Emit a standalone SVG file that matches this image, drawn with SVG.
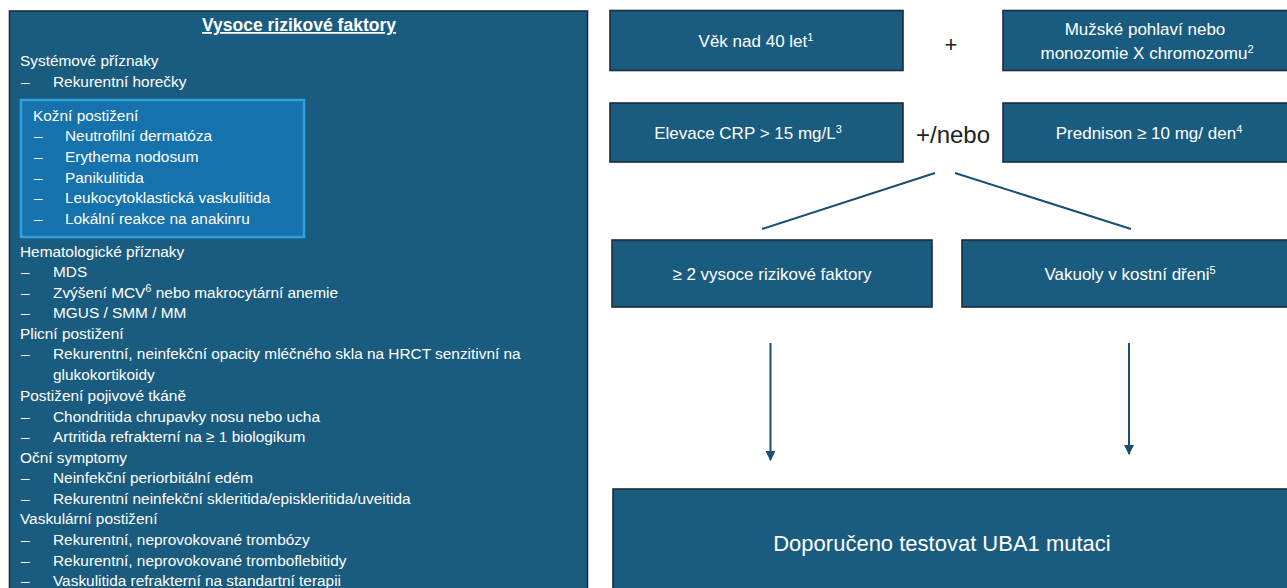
<svg xmlns="http://www.w3.org/2000/svg" width="1287" height="588" viewBox="0 0 1287 588">
<defs>
<style>
.box{fill:#1a5c80;stroke:#1b2c3a;stroke-width:1.6}
.t{font-family:"Liberation Sans",Arial,sans-serif;fill:#ffffff}
.l{font-size:15.4px}
.c{text-anchor:middle}
.m{font-size:17px}
.sup{font-size:11px}
.conn{stroke:#1b4f72;stroke-width:2;fill:none}
</style>
<marker id="ah" viewBox="0 0 10 10" refX="9" refY="5" markerWidth="5" markerHeight="5" orient="auto" markerUnits="strokeWidth">
<path d="M0,0 L10,5 L0,10 z" fill="#1b4f72"/>
</marker>
</defs>
<rect width="1287" height="588" fill="#ffffff"/>

<g id="panel-risk">
<rect class="box" x="9.5" y="11" width="578" height="590"/>
<text class="t c" x="299" y="31" font-size="17.5" font-weight="bold" text-decoration="underline">Vysoce rizikové faktory</text>
<g class="t l">
<text x="20" y="66">Systémové příznaky</text>
<text x="21" y="87">–</text><text x="53" y="87">Rekurentní horečky</text>
</g>
<g id="kozni">
<rect x="21" y="100" width="283" height="137" fill="#1672ac" stroke="#2da2de" stroke-width="2.5"/>
<g class="t l">
<text x="33" y="121">Kožní postižení</text>
<text x="34" y="141">–</text><text x="65" y="141">Neutrofilní dermatóza</text>
<text x="34" y="162">–</text><text x="65" y="162">Erythema nodosum</text>
<text x="34" y="183">–</text><text x="65" y="183">Panikulitida</text>
<text x="34" y="203">–</text><text x="65" y="203">Leukocytoklastická vaskulitida</text>
<text x="34" y="224">–</text><text x="65" y="224">Lokální reakce na anakinru</text>
</g>
</g>
<g class="t l">
<text x="20" y="257">Hematologické příznaky</text>
<text x="21" y="277">–</text><text x="53" y="277">MDS</text>
<text x="21" y="298">–</text><text x="53" y="298">Zvýšení MCV<tspan class="sup" baseline-shift="super">6</tspan> nebo makrocytární anemie</text>
<text x="21" y="318">–</text><text x="53" y="318">MGUS / SMM / MM</text>
<text x="20" y="339">Plicní postižení</text>
<text x="21" y="359">–</text><text x="53" y="359">Rekurentní, neinfekční opacity mléčného skla na HRCT senzitivní na</text>
<text x="53" y="380">glukokortikoidy</text>
<text x="20" y="401">Postižení pojivové tkáně</text>
<text x="21" y="422">–</text><text x="53" y="422">Chondritida chrupavky nosu nebo ucha</text>
<text x="21" y="442">–</text><text x="53" y="442">Artritida refrakterní na ≥ 1 biologikum</text>
<text x="20" y="463">Oční symptomy</text>
<text x="21" y="483">–</text><text x="53" y="483">Neinfekční periorbitální edém</text>
<text x="21" y="504">–</text><text x="53" y="504">Rekurentní neinfekční skleritida/episkleritida/uveitida</text>
<text x="20" y="524">Vaskulární postižení</text>
<text x="21" y="545">–</text><text x="53" y="545">Rekurentní, neprovokované trombózy</text>
<text x="21" y="566">–</text><text x="53" y="566">Rekurentní, neprovokované tromboflebitidy</text>
<text x="21" y="586">–</text><text x="53" y="586">Vaskulitida refrakterní na standartní terapii</text>
</g>
</g>

<g id="n-vek">
<rect class="box" x="610" y="10.5" width="293" height="60"/>
<text class="t c m" x="756" y="47">Věk nad 40 let<tspan class="sup" baseline-shift="super">1</tspan></text>
</g>
<text class="t c" x="951" y="52" font-size="22" style="fill:#222">+</text>
<g id="n-muz">
<rect class="box" x="1003" y="10.5" width="290" height="60"/>
<text class="t c m" x="1145" y="35">Mužské pohlaví nebo</text>
<text class="t c m" x="1147" y="59">monozomie X chromozomu<tspan class="sup" baseline-shift="super">2</tspan></text>
</g>
<g id="n-crp">
<rect class="box" x="610" y="103" width="293" height="59"/>
<text class="t c m" x="748" y="139">Elevace CRP &gt; 15 mg/L<tspan class="sup" baseline-shift="super">3</tspan></text>
</g>
<text class="t c" x="953" y="143" font-size="24" style="fill:#222">+/nebo</text>
<g id="n-pred">
<rect class="box" x="1003" y="103" width="290" height="59"/>
<text class="t c m" x="1149" y="139">Prednison ≥ 10 mg/ den<tspan class="sup" baseline-shift="super">4</tspan></text>
</g>
<g id="n-two">
<rect class="box" x="612" y="240" width="320" height="67"/>
<text class="t c m" x="772" y="280">≥ 2 vysoce rizikové faktory</text>
</g>
<g id="n-vak">
<rect class="box" x="962" y="240" width="330" height="67"/>
<text class="t c m" x="1130" y="280">Vakuoly v kostní dřeni<tspan class="sup" baseline-shift="super">5</tspan></text>
</g>
<g id="n-test">
<rect class="box" x="613" y="489" width="680" height="110"/>
<text class="t c" x="942" y="551" font-size="22">Doporučeno testovat UBA1 mutaci</text>
</g>

<g id="connectors">
<line class="conn" x1="935" y1="173" x2="762" y2="229"/>
<line class="conn" x1="955" y1="173" x2="1131" y2="229"/>
<line class="conn" x1="770.5" y1="343" x2="770.5" y2="460" marker-end="url(#ah)"/>
<line class="conn" x1="1129" y1="343" x2="1129" y2="454" marker-end="url(#ah)"/>
</g>
</svg>
